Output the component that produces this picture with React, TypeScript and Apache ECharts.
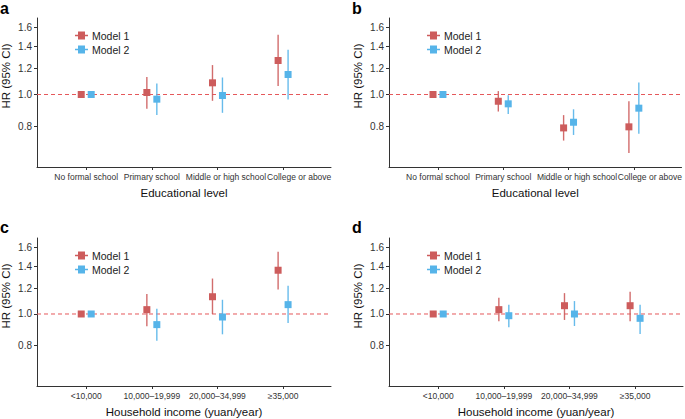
import React, { useEffect, useRef } from "react";
import * as echarts from "echarts";

// ---- Data ----
const eduCats = ["No formal school", "Primary school", "Middle or high school", "College or above"];
const incomeCats = ["<10,000", "10,000\u201319,999", "20,000\u201334,999", "\u226535,000"];
const yTicks = [0.8, 1.0, 1.2, 1.4, 1.6];
// label anchor positions along the category axis (education labels were nudged right in the original)
const eduLabelPos = [1, 2, 3.13, 4.245];
const incomeLabelPos = [1, 2, 3, 4];

// Panel a: education, Model 1 / Model 2
const aM1 = [1.0, 1.014, 1.085, 1.268];
const aM1Lo = [1.0, 0.905, 0.957, 1.062];
const aM1Hi = [1.0, 1.13, 1.228, 1.518];
const aM2 = [1.0, 0.968, 0.993, 1.15];
const aM2Lo = [1.0, 0.866, 0.88, 0.966];
const aM2Hi = [1.0, 1.08, 1.126, 1.367];

// Panel b: education
const bM1 = [1.0, 0.954, 0.792, 0.798];
const bM1Lo = [1.0, 0.888, 0.725, 0.665];
const bM1Hi = [1.0, 1.024, 0.866, 0.954];
const bM2 = [1.0, 0.937, 0.824, 0.909];
const bM2Lo = [1.0, 0.873, 0.754, 0.76];
const bM2Hi = [1.0, 0.995, 0.902, 1.087];

// Panel c: income
const cM1 = [1.0, 1.031, 1.129, 1.36];
const cM1Lo = [1.0, 0.917, 1.0, 1.188];
const cM1Hi = [1.0, 1.15, 1.283, 1.55];
const cM2 = [1.0, 0.928, 0.979, 1.068];
const cM2Lo = [1.0, 0.828, 0.867, 0.939];
const cM2Hi = [1.0, 1.038, 1.105, 1.219];

// Panel d: income
const dM1 = [1.0, 1.031, 1.06, 1.06];
const dM1Lo = [1.0, 0.95, 0.959, 0.95];
const dM1Hi = [1.0, 1.121, 1.158, 1.169];
const dM2 = [1.0, 0.988, 1.0, 0.97];
const dM2Lo = [1.0, 0.911, 0.919, 0.869];
const dM2Hi = [1.0, 1.068, 1.095, 1.068];

const RED = "#CD5C5C";
const BLUE = "#56B4E9";
const REF = "#E5585B";
const FONT = "'Liberation Sans', Arial, Helvetica, sans-serif";
const TXT = "#333";

const X_MIN = 0.25;
const X_MAX = 4.73;
const DODGE = 0.076;
const Y_MIN = -0.506;
const Y_MAX = 0.534;

type Panel = {
  letter: string;
  cats: string[];
  labelPos: number[];
  xTitle: string;
  m1: number[]; m1Lo: number[]; m1Hi: number[];
  m2: number[]; m2Lo: number[]; m2Hi: number[];
  left: number; top: number;
};

const panels: Panel[] = [
  { letter: "a", cats: eduCats, labelPos: eduLabelPos, xTitle: "Educational level", m1: aM1, m1Lo: aM1Lo, m1Hi: aM1Hi, m2: aM2, m2Lo: aM2Lo, m2Hi: aM2Hi, left: 37, top: 18 },
  { letter: "b", cats: eduCats, labelPos: eduLabelPos, xTitle: "Educational level", m1: bM1, m1Lo: bM1Lo, m1Hi: bM1Hi, m2: bM2, m2Lo: bM2Lo, m2Hi: bM2Hi, left: 389, top: 18 },
  { letter: "c", cats: incomeCats, labelPos: incomeLabelPos, xTitle: "Household income (yuan/year)", m1: cM1, m1Lo: cM1Lo, m1Hi: cM1Hi, m2: cM2, m2Lo: cM2Lo, m2Hi: cM2Hi, left: 37, top: 238 },
  { letter: "d", cats: incomeCats, labelPos: incomeLabelPos, xTitle: "Household income (yuan/year)", m1: dM1, m1Lo: dM1Lo, m1Hi: dM1Hi, m2: dM2, m2Lo: dM2Lo, m2Hi: dM2Hi, left: 389, top: 238 },
];

const GRID_W = 294;
const GRID_H = 149;

function buildOption() {
  const grid: any[] = [];
  const xAxis: any[] = [];
  const yAxis: any[] = [];
  const series: any[] = [];
  const legend: any[] = [];
  const graphic: any[] = [];
  const legendIcon = "path://M0,3.3H3V0H10V3.3H13V4.7H10V8H3V4.7H0Z";

  panels.forEach((p, i) => {
    grid.push({ left: p.left, top: p.top, width: GRID_W, height: GRID_H, containLabel: false });
    const cats = p.cats;
    xAxis.push({
      type: "value",
      gridIndex: i,
      min: X_MIN,
      max: X_MAX,
      name: p.xTitle,
      nameLocation: "middle",
      nameGap: 20,
      nameTextStyle: { fontFamily: FONT, fontSize: 11.5, color: "#111", verticalAlign: "top" },
      axisLine: { show: true, onZero: false, lineStyle: { color: "#333", width: 1 } },
      axisTick: { show: true, inside: false, length: 3, lineStyle: { color: "#333" }, customValues: [1, 2, 3, 4] },
      axisLabel: {
        show: true,
        margin: 5,
        fontFamily: FONT,
        fontSize: 8.5,
        color: TXT,
        showMinLabel: true,
        showMaxLabel: true,
        hideOverlap: false,
        customValues: p.labelPos,
        formatter: (v: number) => cats[Math.round(v) - 1] ?? "",
      },
      splitLine: { show: false },
    });
    yAxis.push({
      type: "value",
      gridIndex: i,
      min: Y_MIN,
      max: Y_MAX,
      axisLine: { show: true, onZero: false, lineStyle: { color: "#333", width: 1 } },
      axisTick: { show: true, inside: false, length: 3, lineStyle: { color: "#333" }, customValues: yTicks.map((t) => Math.log(t)) },
      axisLabel: {
        show: true,
        margin: 5,
        fontFamily: FONT,
        fontSize: 10,
        color: TXT,
        showMinLabel: true,
        showMaxLabel: true,
        customValues: yTicks.map((t) => Math.log(t)),
        formatter: (v: number) => Math.exp(v).toFixed(1),
      },
      splitLine: { show: false },
    });

    // reference dashed line at HR = 1
    series.push({
      type: "line",
      name: "ref" + i,
      xAxisIndex: i,
      yAxisIndex: i,
      data: [[X_MIN, 0], [X_MAX, 0]],
      showSymbol: false,
      symbol: "none",
      silent: true,
      z: 1,
      lineStyle: { color: REF, width: 1, type: [4, 3] },
      tooltip: { show: false },
    });

    const models = [
      { name: "Model 1", color: RED, est: p.m1, lo: p.m1Lo, hi: p.m1Hi, off: -DODGE },
      { name: "Model 2", color: BLUE, est: p.m2, lo: p.m2Lo, hi: p.m2Hi, off: DODGE },
    ];
    models.forEach((m) => {
      series.push({
        type: "custom",
        name: m.name,
        xAxisIndex: i,
        yAxisIndex: i,
        z: 2,
        data: m.est.map((_, k) => [k + 1 + m.off, Math.log(m.lo[k]), Math.log(m.hi[k])]),
        encode: { x: 0, y: [1, 2] },
        renderItem: (params: any, api: any) => {
          const x = api.value(0);
          const p1 = api.coord([x, api.value(1)]);
          const p2 = api.coord([x, api.value(2)]);
          return {
            type: "line",
            shape: { x1: p1[0], y1: p1[1], x2: p2[0], y2: p2[1] },
            style: { stroke: m.color, lineWidth: 1.4, opacity: 0.9 },
          };
        },
      });
      series.push({
        type: "scatter",
        name: m.name,
        xAxisIndex: i,
        yAxisIndex: i,
        z: 3,
        symbol: "rect",
        symbolSize: 7,
        itemStyle: { color: m.color, opacity: 1 },
        data: m.est.map((v, k) => [k + 1 + m.off, Math.log(v)]),
      });
    });

    legend.push({
      orient: "vertical",
      left: p.left + 33,
      top: p.top + 6,
      itemWidth: 13,
      itemHeight: 8,
      itemGap: 1,
      icon: legendIcon,
      textStyle: { fontFamily: FONT, fontSize: 10.5, color: "#222", lineHeight: 13, padding: [0, 0, 0, -1] },
      data: [
        { name: "Model 1", itemStyle: { color: RED } },
        { name: "Model 2", itemStyle: { color: BLUE } },
      ],
      selectedMode: false,
    });

    const colLeft = p.left === 37 ? 0 : 352;
    graphic.push({
      type: "text",
      left: colLeft,
      top: p.top === 18 ? 0 : 219,
      style: { text: p.letter, font: `bold 16px ${FONT}`, fill: "#000" },
    });
    graphic.push({
      type: "text",
      x: p.left - 31,
      y: p.top + 58,
      rotation: Math.PI / 2,
      style: {
        text: "HR (95% CI)",
        font: `11.5px ${FONT}`,
        fill: "#111",
        align: "center",
        verticalAlign: "middle",
      },
    });
  });

  return {
    animation: false,
    backgroundColor: "#fff",
    grid,
    xAxis,
    yAxis,
    series,
    legend,
    graphic,
  };
}

export default function App() {
  const ref = useRef<HTMLDivElement>(null);
  useEffect(() => {
    if (!ref.current) return;
    const chart = echarts.init(ref.current, undefined, { renderer: "svg" });
    chart.setOption(buildOption() as any);
    return () => chart.dispose();
  }, []);
  return (
    <div
      ref={ref}
      style={{ position: "absolute", left: 0, top: 0, width: 685, height: 419, background: "#fff" }}
    />
  );
}
